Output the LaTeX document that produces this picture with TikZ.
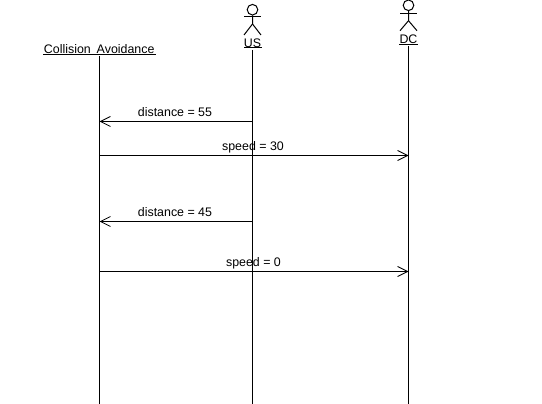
\documentclass[tikz,border=0pt]{standalone}
\usepackage{fontspec}
\setmainfont{Liberation Sans}
\usetikzlibrary{arrows.meta}
\tikzset{
  px/.style={x=1pt,y=-1pt},
  wire/.style={line width=1pt,black},
  lifeline/.style={wire},
  message/.style={wire,-{Straight Barb[length=10pt,width=10pt,line width=0.8pt]}},
  msglabel/.style={inner sep=0pt,font=\fontsize{12.4}{14}\selectfont,text=black},
  headc/.style={circle,draw,line width=1pt,minimum size=10.6pt,inner sep=0pt},
  namelabel/.style={inner sep=0pt,font=\fontsize{12.4}{14}\selectfont,text=black}
}
\begin{document}
\begin{tikzpicture}[px]
\useasboundingbox (0,0) rectangle (542,404);
\fill[white] (0,0) rectangle (542,404);

% Collision Avoidance object
\node[namelabel] (caL) at (99.2,49) {Collision\hspace{2.5pt} Avoidance};
\coordinate (caUa) at (43,54.5);
\coordinate (caUb) at (156,54.5);
\draw[wire] (caUa) -- (caUb);
\coordinate (caTop) at (99.5,56);
\coordinate (caBot) at (99.5,404);
\draw[lifeline] (caTop) -- (caBot);

% US actor
\node[headc] (usH) at (252.5,9.7) {};
\coordinate (usA1) at (244,16.7);
\coordinate (usA2) at (261,16.7);
\coordinate (usHip) at (252.5,24);
\coordinate (usF1) at (244,35);
\coordinate (usF2) at (261,35);
\draw[wire] (usA1) -- (usA2);
\draw[wire] (usH.south) -- (usHip) -- (usF1);
\draw[wire] (usHip) -- (usF2);
\node[namelabel] (usL) at (252.5,43) {US};
\coordinate (usUa) at (244,48);
\coordinate (usUb) at (261.5,48);
\draw[wire] (usUa) -- (usUb);
\coordinate (usTop) at (252.5,50);
\coordinate (usBot) at (252.5,404);
\draw[lifeline] (usTop) -- (usBot);

% DC actor
\node[headc] (dcH) at (408.5,5.3) {};
\coordinate (dcA1) at (400,13.5);
\coordinate (dcA2) at (417,13.5);
\coordinate (dcHip) at (408.5,20.7);
\coordinate (dcF1) at (400,30.7);
\coordinate (dcF2) at (417,30.7);
\draw[wire] (dcA1) -- (dcA2);
\draw[wire] (dcH.south) -- (dcHip) -- (dcF1);
\draw[wire] (dcHip) -- (dcF2);
\node[namelabel] (dcL) at (408.5,39) {DC};
\coordinate (dcUa) at (399,44.5);
\coordinate (dcUb) at (418,44.5);
\draw[wire] (dcUa) -- (dcUb);
\coordinate (dcTop) at (408.5,46);
\coordinate (dcBot) at (408.5,404);
\draw[lifeline] (dcTop) -- (dcBot);

% Messages
\coordinate (us1) at (252.5,121.5);
\coordinate (ca1) at (99.5,121.5);
\draw[message] (us1) -- (ca1);
\node[msglabel] (m1) at (175,112.2) {distance = 55};

\coordinate (ca2) at (99.5,155.5);
\coordinate (dc2) at (408.5,155.5);
\draw[message] (ca2) -- (dc2);
\node[msglabel] (m2) at (253,147) {speed = 30};

\coordinate (us3) at (252.5,221.5);
\coordinate (ca3) at (99.5,221.5);
\draw[message] (us3) -- (ca3);
\node[msglabel] (m3) at (175,212.2) {distance = 45};

\coordinate (ca4) at (99.5,271.5);
\coordinate (dc4) at (408.5,271.5);
\draw[message] (ca4) -- (dc4);
\node[msglabel] (m4) at (253.5,263) {speed = 0};
\end{tikzpicture}
\end{document}
